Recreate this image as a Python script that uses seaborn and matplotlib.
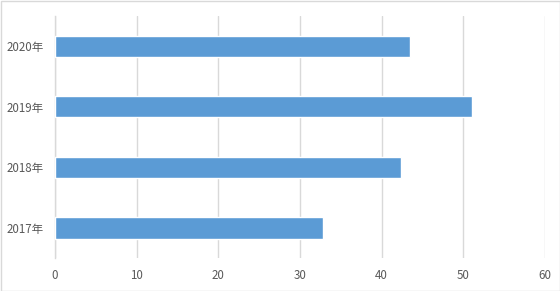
import matplotlib
matplotlib.use("Agg")
import matplotlib.pyplot as plt
import seaborn as sns
import pandas as pd
from matplotlib.patches import Rectangle

categories = ["2017年", "2018年", "2019年", "2020年"]
values = [32.8, 42.4, 51.1, 43.5]
x_ticks = [0, 10, 20, 30, 40, 50, 60]

sns.set_theme(style="white")
plt.rcParams['font.family'] = ['Noto Sans CJK SC', 'DejaVu Sans']

df = pd.DataFrame({"year": categories, "value": values})
order = categories[::-1]

fig = plt.figure(figsize=(5.6, 2.91), dpi=100)
ax = fig.add_axes([55/560, 1-258.3/291, (545-55)/560, (258.3-16)/291])

sns.barplot(data=df, x="value", y="year", order=order, orient="h",
            color="#5B9BD5", saturation=1, width=0.35, ax=ax, zorder=3)

ax.set_xlim(0, 60)
ax.set_ylim(3.5, -0.5)
ax.set_xticks(x_ticks)
ax.set_xticklabels([str(t) for t in x_ticks])
ax.grid(axis="x", color="#D9D9D9", linewidth=1, zorder=0)
ax.set_axisbelow(True)
for s in ["top", "right", "bottom"]:
    ax.spines[s].set_visible(False)
ax.spines["left"].set_color("#D9D9D9")
ax.spines["left"].set_linewidth(1)
ax.tick_params(axis="both", length=0, labelsize=8.3, colors="#595959")
ax.tick_params(axis="x", pad=8)
ax.tick_params(axis="y", pad=8)
ax.set_xlabel("")
ax.set_ylabel("")

fig.patches.append(Rectangle((0.5/560, 0.5/291), 1-1/560, 1-1/291, transform=fig.transFigure,
                             fill=False, edgecolor="#D9D9D9", linewidth=1))

fig.savefig("out.png", dpi=100)
